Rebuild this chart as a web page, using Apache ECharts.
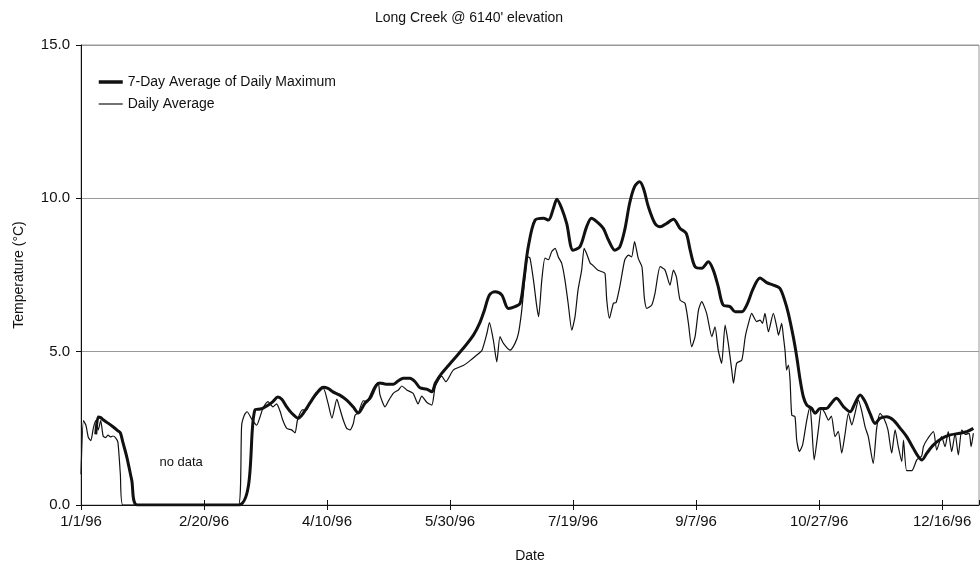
<!DOCTYPE html>
<html>
<head>
<meta charset="utf-8">
<script src="https://cdn.jsdelivr.net/npm/echarts@6/dist/echarts.min.js"></script>
<style>html,body{margin:0;padding:0;background:#fff;}#c{width:980px;height:569px;}</style>
</head>
<body>
<div id="c"></div>
<script>
// x values are days since 1/1/96
const tickLabels = ['1/1/96','2/20/96','4/10/96','5/30/96','7/19/96','9/7/96','10/27/96','12/16/96'];

const avgDay = [0,1,2,3,4,5,6,7,8,9,10,11,12,13,14,15,16,17,64,65.3,66.5,67.5,69.4,71.4,72.8,74,76,78,79.5,81,82,83.6,85.6,87,88,90,91.7,93,95.8,98.5,100.4,102,104,105,106.6,108,109.3,110.7,111.4,112.7,114.7,116,118.8,120.8,121.5,123.6,125,127,129,130.4,132.4,135,137,138.5,140.5,142.6,144,146.6,148.3,151.3,155.4,158,161,163,165,166,167.6,169,170.3,171.7,174.4,176.4,177.8,179,181.7,182.5,183.9,185.2,186,187.3,188.6,190,191.3,192.7,194,195.4,196.7,198,199.5,200.8,202,203.5,204.5,205.5,207,208,210,212,213,213.7,214.8,216.4,217.5,219,221,222.5,223.8,225,226.5,228,229,230,232,233.3,235.4,237.4,239.4,240.8,242,243.5,245.5,246.9,248.2,249.6,251,252.3,254.3,256.4,257.7,259,260.4,261.8,263.1,264.5,265.2,266.5,268.6,270,271.3,272.6,274.6,276,277,278,279.4,281.4,282.8,283.5,284.8,285.5,286.2,286.8,287.5,288.2,288.9,290.2,290.9,292,293.3,295,296.3,297,298,299.7,301,302.4,303.8,305,306.5,307.8,309.2,310.6,311.9,313.3,314.6,316,317.4,318.7,320,322,323.4,324.8,326.5,328,329.5,330.9,332.2,333.6,334.3,335.6,337.7,339.7,341.7,342.4,343.8,346.5,347.8,349.8,351.2,352.5,353.9,355.3,356.6,358,359.5,361,361.8,362.7];
const avgTemp = [1.0,2.75,2.6,2.2,2.1,2.5,2.75,2.45,2.75,2.25,2.2,2.28,2.22,2.25,2.2,2.05,1.0,0,0,2.6,2.95,3.04,2.8,2.6,2.88,3.16,3.37,3.2,3.3,3.04,2.77,2.5,2.45,2.35,2.77,3.1,3.1,3.3,3.6,3.8,3.32,2.83,3.45,3.2,2.77,2.5,2.45,2.66,2.93,3.0,3.4,3.37,3.8,4.0,3.6,3.2,3.4,3.65,3.75,3.88,3.75,3.64,3.3,3.55,3.35,3.26,3.86,4.2,4.02,4.4,4.55,4.7,4.9,5.05,5.6,5.95,5.38,4.67,5.49,5.27,5.05,5.27,5.6,6.25,8.09,8.05,7.34,6.5,6.14,7.34,8.05,8.0,8.26,8.37,8.09,7.88,7.34,6.58,5.7,6.14,7.0,7.66,8.37,8.2,7.88,7.82,7.66,7.6,7.55,6.68,6.09,6.58,6.6,7.12,7.99,8.15,8.09,8.59,8.04,7.77,6.74,6.41,6.52,6.9,7.77,7.66,7.17,7.66,7.44,6.68,6.58,5.92,5.16,5.49,6.36,6.63,6.25,5.49,5.81,5.05,4.62,5.87,5.27,4.4,3.97,4.62,4.73,5.49,5.92,6.25,5.98,6.03,5.92,6.25,5.65,6.25,5.81,5.54,5.92,5.49,5.0,4.4,4.56,4.08,2.93,2.88,2.12,1.74,1.96,2.77,3.2,2.6,1.47,2.45,3.15,3.0,2.77,2.9,2.23,2.4,1.69,2.34,2.99,2.61,2.99,3.42,3.04,2.55,2.23,1.36,2.5,2.99,2.8,2.45,1.69,2.45,1.9,1.41,2.12,1.12,1.12,1.47,1.6,1.9,2.12,2.39,1.79,2.23,1.9,2.39,1.74,2.34,1.63,2.45,2.3,2.34,1.9,2.34];

const maxDay = [6,7,8,9,11,13,15,16,17,18.6,20.6,22.9,64,70.7,72.8,74,76,78,80,81.6,83.6,85.6,88.3,90.4,93,95.8,98.5,100.4,102.4,105,108,110.6,112.7,115.4,117.5,120,121.5,124,127,129,131,133.7,135.8,137.8,140.5,142.6,144,146.6,151.3,155.4,159.5,162,164,166,168.3,171,173.7,176.4,178.5,180,181.8,184.6,188,190,192,193.4,195.4,197.4,200,202.8,205.5,207.5,209.6,212.3,214.4,217,219,221,223,225,227,228.6,230.6,233.3,235.4,238,240.8,243.5,246,247.6,249.6,252.3,255,257,259,261,263.8,265.9,268.6,270.6,273.3,276,278.7,281.4,284,286,287.5,289.5,290.9,292.3,293.6,295,297,298.4,300.4,303,305,307,310,312.6,314.6,316.7,318.7,320.7,322.8,324.8,327.5,330.2,333,335.6,338.3,340.4,341.8,343.8,346.5,349.8,353,357.3,360,362.7];
const maxTemp = [2.3,2.87,2.85,2.78,2.67,2.55,2.42,2.35,2.05,1.57,0.82,0,0,3.1,3.13,3.16,3.25,3.37,3.52,3.45,3.2,3.0,2.83,3.0,3.32,3.65,3.84,3.8,3.69,3.59,3.42,3.2,3.0,3.32,3.48,3.9,3.98,3.94,3.94,4.05,4.13,4.13,4.02,3.82,3.78,3.69,3.97,4.29,4.73,5.11,5.54,5.92,6.36,6.85,6.95,6.85,6.41,6.47,6.58,7.34,8.42,9.29,9.35,9.29,9.67,9.97,9.67,9.18,8.31,8.42,9.07,9.35,9.24,9.02,8.64,8.31,8.42,8.97,9.84,10.38,10.54,10.33,9.73,9.18,9.07,9.18,9.32,9.02,8.86,8.31,7.77,7.72,7.93,7.66,7.12,6.52,6.47,6.3,6.3,6.52,7.07,7.4,7.25,7.17,7.07,6.68,6.25,5.49,4.84,4.08,3.53,3.26,3.15,2.99,3.15,3.15,3.32,3.48,3.2,3.04,3.32,3.59,3.37,2.99,2.66,2.83,2.88,2.77,2.5,2.23,1.85,1.57,1.47,1.69,1.96,2.17,2.28,2.34,2.39,2.5];

const zip = (a, b) => a.map((d, i) => [d, b[i]]);
const font = 'Liberation Sans, Arial, sans-serif';

const chart = echarts.init(document.getElementById('c'), null, {renderer: 'canvas'});
chart.setOption({
  backgroundColor: '#fff',
  animation: false,
  title: {
    text: "Long Creek @ 6140' elevation",
    left: 464, top: 6, textAlign: 'center',
    textStyle: {fontFamily: font, fontSize: 14, fontWeight: 'normal', color: '#111'}
  },
  legend: {
    orient: 'vertical', left: 97, top: 75, padding: 0, itemWidth: 24, itemHeight: 12, itemGap: 8,
    itemStyle: {opacity: 0},
    textStyle: {fontFamily: font, fontSize: 14, color: '#111'},
    data: [
      {name: '7-Day Average of Daily Maximum', lineStyle: {width: 3.5, color: '#111'}},
      {name: 'Daily Average', lineStyle: {width: 1.2, color: '#111'}}
    ]
  },
  grid: {left: 81, right: 1, top: 45, bottom: 64, show: true, borderColor: '#999', borderWidth: 1},
  xAxis: [{
    type: 'value', min: 0, max: 365, interval: 50,
    name: 'Date', nameLocation: 'middle', nameGap: 44,
    nameTextStyle: {fontFamily: font, fontSize: 14, color: '#111'},
    axisLine: {lineStyle: {color: '#111', width: 1}},
    axisTick: {show: true, length: 5, lineStyle: {color: '#111'}},
    axisLabel: {fontFamily: font, fontSize: 15, color: '#111', margin: 9,
      showMaxLabel: false,
      formatter: v => (v % 50 === 0 ? (tickLabels[v / 50] || '') : '')},
    splitLine: {show: false}
  }, {
    type: 'value', min: 0, max: 365, interval: 50, position: 'bottom',
    axisLine: {show: false},
    axisTick: {show: true, inside: true, length: 5, lineStyle: {color: '#111'}},
    axisLabel: {show: false}, splitLine: {show: false}
  }],
  yAxis: {
    type: 'value', min: 0, max: 15, interval: 5,
    name: 'Temperature (°C)', nameLocation: 'middle', nameGap: 55,
    nameTextStyle: {fontFamily: font, fontSize: 14, color: '#111'},
    axisLine: {show: true, lineStyle: {color: '#111', width: 1}},
    axisTick: {show: true, length: 5, lineStyle: {color: '#111'}},
    axisLabel: {fontFamily: font, fontSize: 15, color: '#111', margin: 11, formatter: v => v.toFixed(1)},
    splitLine: {show: true, lineStyle: {color: '#999', width: 1}}
  },
  series: [{
    name: '7-Day Average of Daily Maximum', type: 'line', symbol: 'none', smooth: 0.3,
    lineStyle: {color: '#111', width: 3}, itemStyle: {color: '#111'},
    data: zip(maxDay, maxTemp), z: 3
  }, {
    name: 'Daily Average', type: 'line', symbol: 'none', smooth: 0.2,
    lineStyle: {color: '#111', width: 1.2}, itemStyle: {color: '#111'},
    data: zip(avgDay, avgTemp), z: 2,
    markPoint: {
      symbol: 'rect', symbolSize: 0, silent: true,
      label: {show: true, formatter: 'no data', fontFamily: font, fontSize: 13, color: '#111', position: 'inside'},
      data: [{coord: [40.7, 1.4]}]
    }
  }]
});
</script>
</body>
</html>
